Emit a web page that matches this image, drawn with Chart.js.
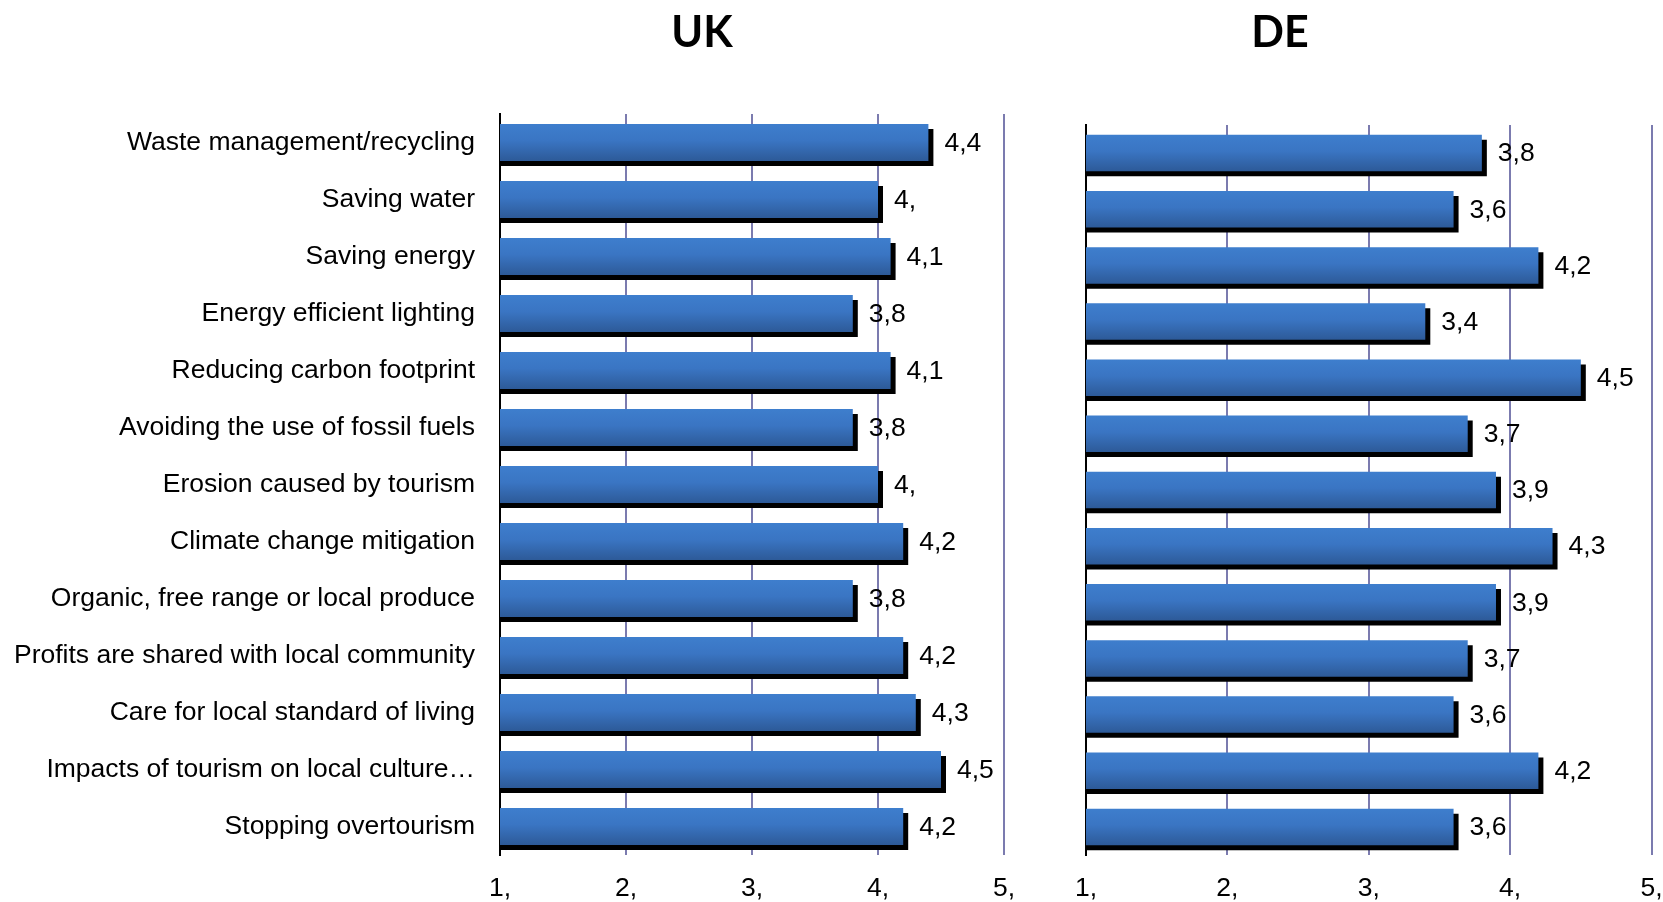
<!DOCTYPE html>
<html><head><meta charset="utf-8">
<script src="https://cdn.jsdelivr.net/npm/chart.js@4.4.1/dist/chart.umd.min.js"></script>
<style>
html,body{margin:0;padding:0;background:#fff;width:1663px;height:902px;overflow:hidden}
#uk{position:absolute;left:0;top:0}
#de{position:absolute;left:1040px;top:0}
</style></head><body>
<canvas id="uk" width="1040" height="902"></canvas>
<canvas id="de" width="623" height="902"></canvas>
<script>
const categories = [
  'Waste management/recycling',
  'Saving water',
  'Saving energy',
  'Energy efficient lighting',
  'Reducing carbon footprint',
  'Avoiding the use of fossil fuels',
  'Erosion caused by tourism',
  'Climate change mitigation',
  'Organic, free range or local produce',
  'Profits are shared with local community',
  'Care for local standard of living',
  'Impacts of tourism on local culture\u2026',
  'Stopping overtourism'
];
const ukValues = [4.4, 4.0, 4.1, 3.8, 4.1, 3.8, 4.0, 4.2, 3.8, 4.2, 4.3, 4.5, 4.2];
const deValues = [3.8, 3.6, 4.2, 3.4, 4.5, 3.7, 3.9, 4.3, 3.9, 3.7, 3.6, 4.2, 3.6];
const xTickLabels = ['1,', '2,', '3,', '4,', '5,'];
const panelTitles = ['UK', 'DE'];

const FONT = '"Liberation Sans", Arial, sans-serif';
const FSIZE = 26.5;

function fmt(v) {
  let s = v.toFixed(1).replace('.', ',');
  if (s.endsWith(',0')) s = s.slice(0, -1);
  return s;
}

const barStyle = {
  id: 'barStyle',
  beforeDatasetsDraw(chart) {
    const ctx = chart.ctx;
    chart.getDatasetMeta(0).data.forEach(bar => {
      const h = bar.height;
      const top = bar.y - h / 2;
      const g = ctx.createLinearGradient(0, top, 0, top + h);
      g.addColorStop(0, '#3E7ECD');
      g.addColorStop(0.45, '#3A75C3');
      g.addColorStop(1, '#2D5A98');
      bar.options = Object.assign({}, bar.options, { backgroundColor: g });
    });
    ctx.save();
    ctx.shadowColor = '#000';
    ctx.shadowOffsetX = 5;
    ctx.shadowOffsetY = 5;
    ctx.shadowBlur = 0;
  },
  afterDatasetsDraw(chart) {
    const ctx = chart.ctx;
    ctx.restore();
    ctx.save();
    ctx.font = FSIZE + 'px ' + FONT;
    ctx.fillStyle = '#000';
    ctx.textAlign = 'left';
    ctx.textBaseline = 'middle';
    const data = chart.data.datasets[0].data;
    chart.getDatasetMeta(0).data.forEach((bar, i) => {
      ctx.fillText(fmt(data[i]), bar.x + 16, bar.y + 1);
    });
    ctx.restore();
  },
  afterDraw(chart, args, opts) {
    const ctx = chart.ctx;
    ctx.save();
    ctx.font = 'bold 43px Lato, "Open Sans", sans-serif';
    ctx.fillStyle = '#000';
    ctx.textAlign = 'center';
    ctx.textBaseline = 'alphabetic';
    ctx.fillText(opts.text, opts.x, opts.y);
    ctx.restore();
  }
};

function makeChart(id, values, title, cfg) {
  return new Chart(document.getElementById(id), {
    type: 'bar',
    data: {
      labels: categories,
      datasets: [{
        data: values,
        backgroundColor: '#3A75C3',
        borderWidth: 0,
        barPercentage: 0.65,
        categoryPercentage: 1
      }]
    },
    options: {
      indexAxis: 'y',
      responsive: false,
      animation: false,
      layout: { padding: cfg.padding },
      plugins: {
        legend: { display: false },
        tooltip: { enabled: false },
        barStyle: { text: title, x: cfg.titleX, y: 47 }
      },
      scales: {
        x: {
          min: 1, max: 5,
          ticks: {
            stepSize: 1,
            callback: (v, i) => xTickLabels[i],
            font: { family: FONT, size: FSIZE },
            color: '#000',
            padding: 18,
            maxRotation: 0,
            autoSkip: false
          },
          grid: {
            drawTicks: false,
            color: c => (c.index === 0 ? 'rgba(0,0,0,0)' : '#7B7BAF'),
            lineWidth: 2
          },
          border: { display: false },
          afterFit(s) {
            s.height = 47;
            s.paddingLeft = 0;
            s.paddingRight = 0;
          }
        },
        y: {
          z: 1,
          ticks: {
            display: cfg.showLabels,
            font: { family: FONT, size: FSIZE },
            color: '#000',
            padding: 25,
            autoSkip: false
          },
          grid: { display: false, drawTicks: false },
          border: { display: true, color: '#000', width: 2 },
          afterFit(s) {
            s.width = cfg.yWidth;
            s.paddingTop = 0;
            s.paddingBottom = 0;
          }
        }
      }
    },
    plugins: [barStyle]
  });
}

makeChart('uk', ukValues, panelTitles[0], {
  padding: { left: 0, right: 36, top: 114, bottom: 0 },
  showLabels: true, yWidth: 500, titleX: 702
});
makeChart('de', deValues, panelTitles[1], {
  padding: { left: 46, right: 11.5, top: 125, bottom: 0 },
  showLabels: false, yWidth: 0, titleX: 240
});
</script>
</body></html>
